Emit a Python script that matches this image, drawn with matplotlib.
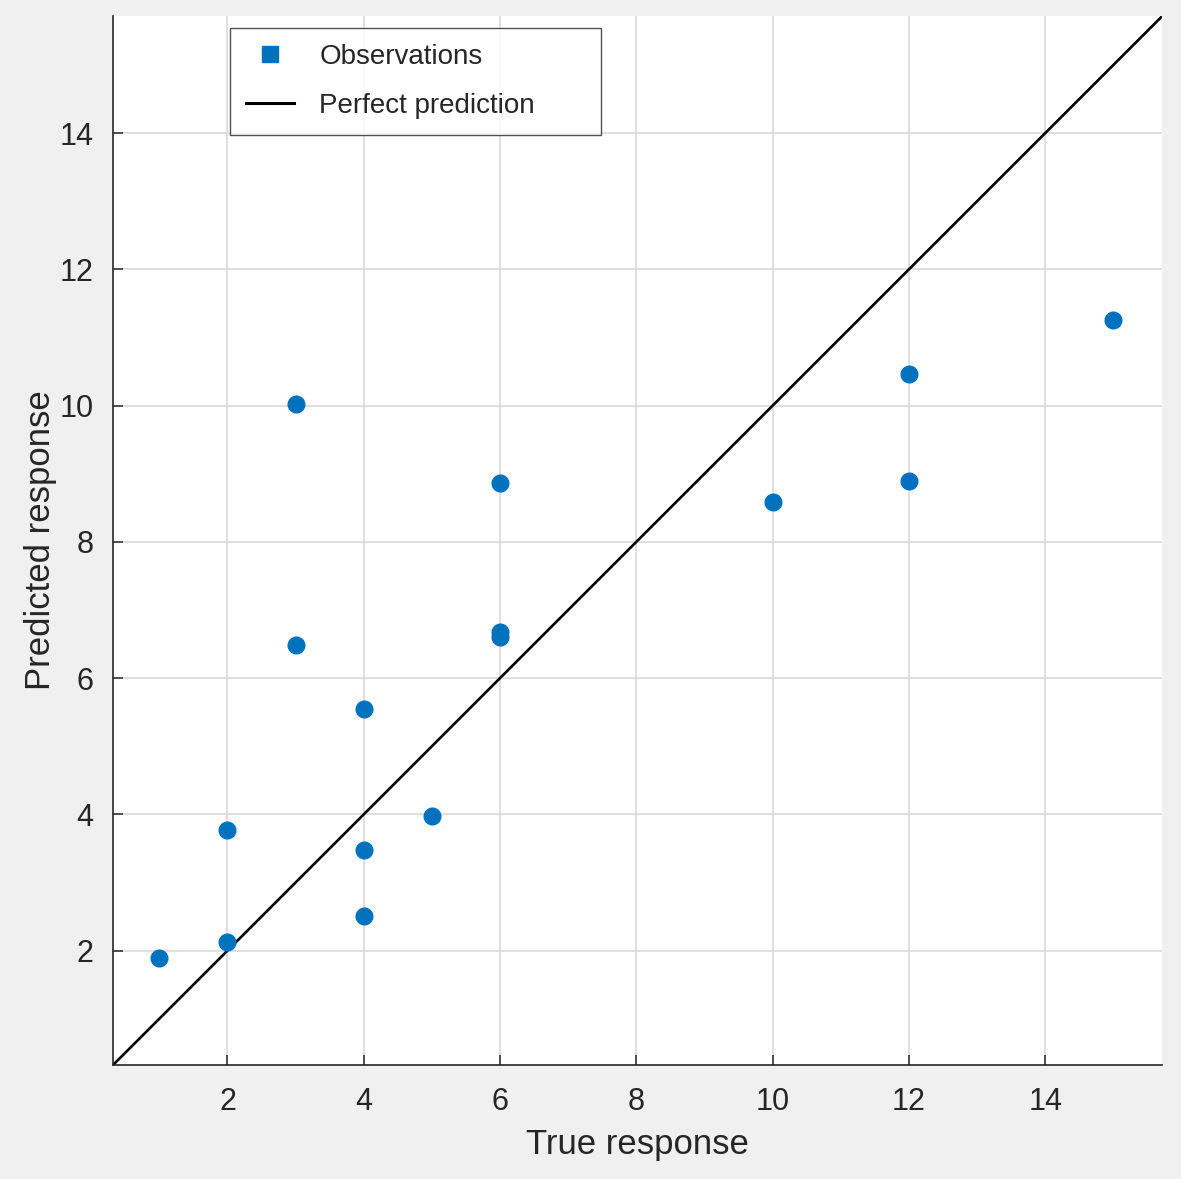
import matplotlib.pyplot as plt
from matplotlib.lines import Line2D

plt.rcParams['font.family'] = ['Liberation Sans', 'DejaVu Sans']

# observations
true_resp = [1, 2, 2, 3, 3, 4, 4, 4, 5, 6, 6, 6, 10, 12, 12, 15]
pred_resp = [1.89, 2.13, 3.77, 10.03, 6.48, 5.55, 3.47, 2.51, 3.98,
             8.87, 6.68, 6.61, 8.59, 10.47, 8.90, 11.26]
lims = [0.32, 15.72]
ticks = [2, 4, 6, 8, 10, 12, 14]

blue = '#0072BD'
dark = '#262626'

fig = plt.figure(figsize=(11.81, 11.79), dpi=100, facecolor='#f0f0f0')
ax = fig.add_axes([0.0957, 0.0967, 0.8885, 0.8897])
ax.set_facecolor('white')

ax.plot(true_resp, pred_resp, 'o', color=blue, ms=12, zorder=3)
ax.plot(lims, lims, '-', color='black', lw=1.9, zorder=2)

ax.set_xlim(lims)
ax.set_ylim(lims)
ax.set_xticks(ticks)
ax.set_yticks(ticks)
ax.grid(True, color='#d9d9d9', lw=1.2)
ax.set_axisbelow(True)

for s in ['top', 'right']:
    ax.spines[s].set_visible(False)
for s in ['left', 'bottom']:
    ax.spines[s].set_color(dark)
    ax.spines[s].set_linewidth(1.2)
ax.tick_params(direction='in', length=7, width=1.1, colors=dark,
               labelsize=22)
ax.tick_params(axis='x', pad=16)
ax.tick_params(axis='y', pad=14)

ax.set_xlabel('True response', fontsize=25, color=dark, labelpad=8)
ax.set_ylabel('Predicted response', fontsize=25, color=dark, labelpad=2)

handles = [Line2D([], [], ls='none', marker='s', color=blue, ms=12),
           Line2D([], [], color='black', lw=2.2)]
leg = ax.legend(handles, ['Observations', 'Perfect prediction'],
                loc='upper left', bbox_to_anchor=(0.1115, 0.9886, 0.3537, 0),
                mode='expand', fontsize=20, frameon=True, fancybox=False,
                handlelength=1.75, handletextpad=0.9, labelspacing=0.85,
                borderpad=0.56, borderaxespad=0)
leg.get_frame().set_edgecolor(dark)
leg.get_frame().set_linewidth(1.0)
for t in leg.get_texts():
    t.set_color(dark)

fig.savefig('out.png', dpi=100, facecolor=fig.get_facecolor())
